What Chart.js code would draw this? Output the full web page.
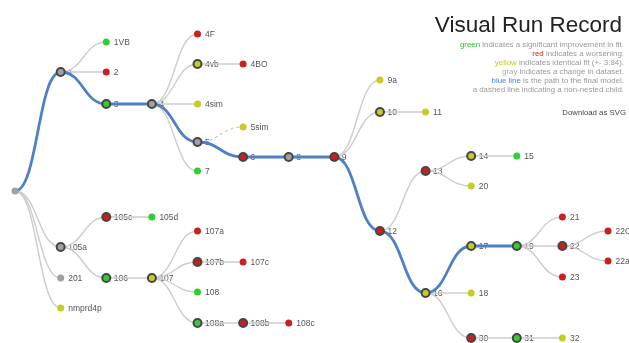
<!DOCTYPE html>
<html>
<head>
<meta charset="utf-8">
<script src="https://cdn.jsdelivr.net/npm/chart.js@4.4.0/dist/chart.umd.min.js"></script>
<style>
html,body{margin:0;padding:0;background:#fff;}
#wrap{position:relative;width:629px;height:343px;overflow:hidden;}
#title{position:absolute;right:7px;top:12px;font-family:"Liberation Sans",Arial,sans-serif;font-size:22.5px;color:#222;white-space:nowrap;line-height:26px;}
#legend{position:absolute;right:5px;top:39.5px;font-family:"Liberation Sans",Arial,sans-serif;font-size:7.9px;line-height:9px;color:#999;text-align:right;white-space:nowrap;}
#dl{position:absolute;right:3px;top:108px;font-family:"Liberation Sans",Arial,sans-serif;font-size:7.8px;color:#444;white-space:nowrap;}
</style>
</head>
<body>
<div id="wrap">
<canvas id="c" width="629" height="343"></canvas>
<div id="title">Visual Run Record</div>
<div id="legend">
<span style="color:#33b833">green</span> indicates a significant improvement in fit.<br>
<span style="color:#cc2222">red</span> indicates a worsening.<br>
<span style="color:#c8c820">yellow</span> indicates identical fit (+- 3.84).<br>
<span style="color:#aaa">gray</span> indicates a change in dataset.<br>
<span style="color:#4b86d0">blue line</span> is the path to the final model.<br>
a dashed line indicating a non-nested child.
</div>
<div id="dl">Download as SVG</div>
</div>
<script>
// ---- data ----
const nodeNames  = ['','1','105a','201','nmprd4p','1VB','2','3','105c','106','4','105d','107','4F','4vb','4sim','5','7','107a','107b','108','108a','4BO','5sim','6','107c','108b','8','108c','9','9a','10','12','11','13','16','14','20','17','18','30','15','19','31','21','22','23','32','22O','22a'];
const nodeDepth  = [0,1,1,1,1,2,2,2,2,2,3,3,3,4,4,4,4,4,4,4,4,4,5,5,5,5,5,6,6,7,8,8,8,9,9,9,10,10,10,10,10,11,11,11,12,12,12,12,13,13];
const nodeRow    = [191,72,247,278,308,42,72,104,217,278,104,217,278,34,64,104,142,171,231,262,292,323,64,127,157,262,323,157,323,157,80,112,231,112,171,293,156,186,246,293,338,156,246,338,217,246,277,338,231,261];
const nodeParent = ['', '', '', '', '', '1','1','1','105a','105a','3','105c','106','4','4','4','4','4','107','107','107','107','4vb','5','5','107b','108a','6','108b','8','9','9','9','10','12','12','13','13','16','16','16','14','17','30','19','19','19','31','22','22'];
const nodeStatus = ['gray','gray','gray','gray','yellow','green','red','green','red','green','gray','green','yellow','red','yellow','yellow','gray','green','red','red','green','green','red','yellow','red','red','red','gray','red','red','yellow','yellow','red','yellow','red','yellow','yellow','yellow','yellow','yellow','red','green','green','green','red','red','red','yellow','red','red'];
const finalPath  = ['','1','3','4','5','6','8','9','12','16','17','19'];
const nonNested  = ['5sim'];

const statusColors = {green:'#33cc33', red:'#cc1f1f', yellow:'#c8cc22', gray:'#a0a0a0'};
const hasChildren = nodeNames.map(n => nodeParent.some((p,i)=> i>0 && p===n));
const parentIndex = nodeParent.map((p,i)=> i===0 ? -1 : nodeNames.indexOf(p));

const points = nodeNames.map((n,i)=>({x:nodeDepth[i], y:nodeRow[i]}));

const treePlugin = {
  id:'tree',
  beforeDatasetsDraw(chart){
    const ctx = chart.ctx, xs = chart.scales.x, ys = chart.scales.y;
    const px = i => xs.getPixelForValue(nodeDepth[i]);
    const py = i => ys.getPixelForValue(nodeRow[i]);
    ctx.save();
    ctx.font = '8.5px "Liberation Sans", Arial, sans-serif';
    ctx.fillStyle = '#555';
    ctx.textBaseline = 'middle';
    nodeNames.forEach((n,i)=>{ if(n) ctx.fillText(n, px(i)+7.5, py(i)+0.5); });
    ctx.restore();
    const link = (i, color, width, dash) => {
      const p = parentIndex[i];
      const sx = px(p), sy = py(p), tx = px(i), ty = py(i), mx = (sx+tx)/2;
      ctx.beginPath();
      ctx.setLineDash(dash||[]);
      ctx.strokeStyle = color; ctx.lineWidth = width;
      ctx.moveTo(sx,sy); ctx.bezierCurveTo(mx,sy,mx,ty,tx,ty); ctx.stroke();
    };
    ctx.save();
    const onPath = i => finalPath.includes(nodeNames[i]) && finalPath.includes(nodeNames[parentIndex[i]]);
    nodeNames.forEach((n,i)=>{
      if(i===0 || onPath(i)) return;
      if(nonNested.includes(n)) link(i,'#c8c8c8',1.2,[3,3]);
      else link(i,'#cccccc',1.4);
    });
    nodeNames.forEach((n,i)=>{
      if(i!==0 && onPath(i)) link(i,'#4d80c4',2.8);
    });
    ctx.restore();
  }
};

new Chart(document.getElementById('c'), {
  type:'scatter',
  data:{datasets:[{
    data: points,
    clip:false,
    pointRadius: c => hasChildren[c.dataIndex] && c.dataIndex!==0 ? 4 : 3.5,
    pointBorderWidth: c => hasChildren[c.dataIndex] && c.dataIndex!==0 ? 2 : 0,
    pointBorderColor: '#454545',
    pointBackgroundColor: c => statusColors[nodeStatus[c.dataIndex]],
    pointHoverRadius: 4
  }]},
  options:{
    responsive:false, animation:false,
    layout:{padding:0, autoPadding:false},
    plugins:{legend:{display:false}, tooltip:{enabled:false}},
    scales:{
      x:{type:'linear', min:-0.33, max:13.46, display:false},
      y:{type:'linear', min:0, max:343, reverse:true, display:false}
    }
  },
  plugins:[treePlugin]
});
</script>
</body>
</html>
